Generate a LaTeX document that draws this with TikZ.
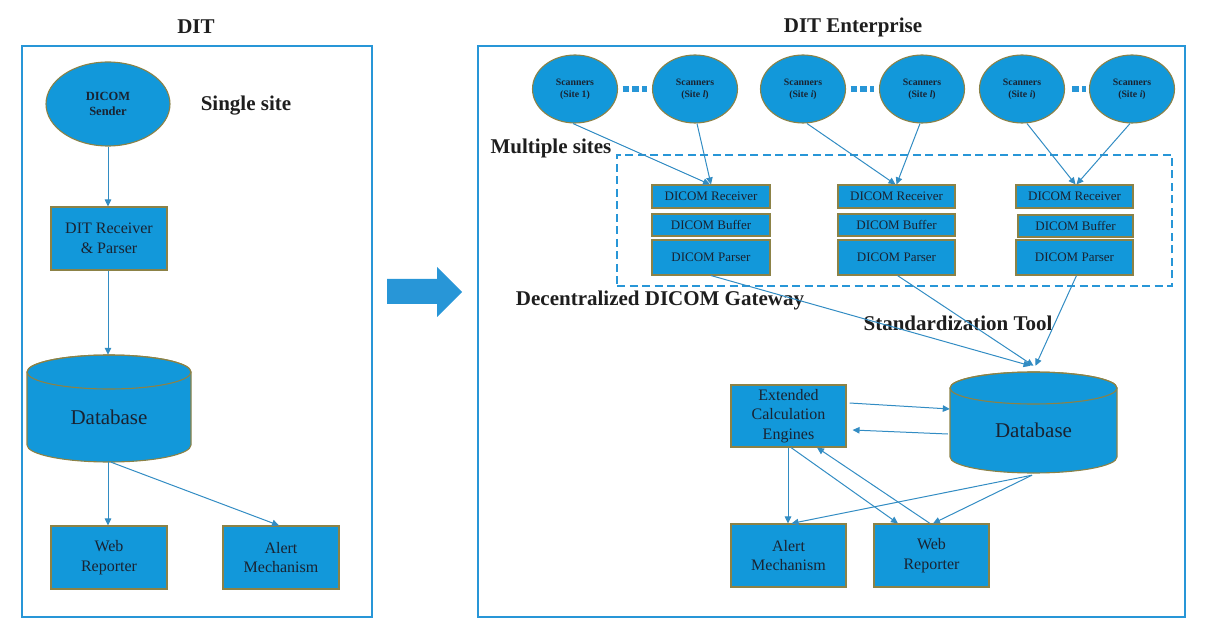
\documentclass[tikz,border=0pt]{standalone}
\usepackage{fontspec}
\setmainfont{Liberation Serif}
\usetikzlibrary{shapes.geometric,arrows.meta,calc}
\definecolor{nodefill}{RGB}{18,152,218}
\definecolor{nodeborder}{RGB}{140,130,70}
\definecolor{framecol}{RGB}{40,150,215}
\definecolor{conncol}{RGB}{50,140,195}
\definecolor{txt}{RGB}{25,35,50}
\definecolor{titlecol}{RGB}{30,30,30}
\tikzset{
  box/.style={draw=nodeborder, fill=nodefill, line width=1.1pt, text=txt, align=center, inner sep=0pt},
  scan/.style={ellipse, draw=nodeborder, fill=nodefill, line width=1.1pt, text=txt, align=center, inner sep=0pt,
    minimum width=85pt, minimum height=68pt, font=\bfseries\fontsize{9.8}{12}\selectfont},
  cylstyle/.style={draw=nodeborder, fill=nodefill, line width=1.1pt},
  dbtext/.style={text=txt, font=\fontsize{21}{25}\selectfont},
  conn/.style={draw=conncol, line width=1pt, -{Triangle[length=7pt,width=6.5pt]}},
  frame/.style={draw=framecol, line width=2.5pt, inner sep=0pt},
  title/.style={font=\bfseries\fontsize{21}{25}\selectfont, text=titlecol},
  mid/.style={font=\fontsize{16}{19.5}\selectfont},
  small/.style={font=\fontsize{13}{15}\selectfont},
  dots/.style={draw=framecol, line width=6pt, dash pattern=on 6.5pt off 3.25pt},
}
\newcommand{\mycyl}[6]{%
  \filldraw[cylstyle] ({#2-#5},{#3+#6}) -- ({#2-#5},{#4-#6})
    arc[start angle=180,end angle=0,x radius=#5,y radius=#6]
    -- ({#2+#5},{#3+#6})
    arc[start angle=0,end angle=-180,x radius=#5,y radius=#6] -- cycle;
  \draw[cylstyle, fill=none] (#2,{#3+#6}) ellipse[x radius=#5,y radius=#6];
  \node[inner sep=0pt, minimum width={2*#5}, minimum height={#4-#3}] (#1) at (#2,{(#3+#4)/2}) {};
  \node[dbtext] (#1label) at (#2,{(#3+#6+#4)/2}) {Database};
}
\begin{document}
\begin{tikzpicture}[x=1pt,y=-1pt]
\useasboundingbox (0,0) rectangle (1218,644);

% ---------- left panel ----------
\node[frame, minimum width=350pt, minimum height=571pt] (leftframe) at (197,331.5) {};
\node[title] (t1) at (196,27) {DIT};
\node[box, ellipse, minimum width=124pt, minimum height=84pt, font=\bfseries\fontsize{12.5}{15}\selectfont] (sender) at (108,104) {DICOM\\Sender};
\node[title] (single) at (246,106) {Single site};
\node[box, mid, minimum width=116pt, minimum height=63pt] (recv) at (109,238.5) {DIT Receiver\\\& Parser};
\mycyl{db1}{109}{355}{462}{82}{17}
\node[box, mid, minimum width=116pt, minimum height=63pt] (web1) at (109,557.5) {Web\\Reporter};
\node[box, mid, minimum width=116pt, minimum height=63pt] (alert1) at (281,557.5) {Alert\\Mechanism};

\draw[conn] (sender.south) -- (sender.south |- recv.north);
\draw[conn] (recv.south -| sender.south) -- (db1.north -| sender.south);
\draw[conn] ($(db1.south)+(-1,0)$) -- ($(web1.north)+(-1,0)$);
\draw[conn] ($(db1.south)+(2,0)$) -- ($(alert1.north)+(-2,0)$);

% ---------- big arrow ----------
\filldraw[fill=framecol, draw=none] (387,279) -- (437,279) -- (437,267) -- (462,292) -- (437,317) -- (437,304) -- (387,304) -- cycle;

% ---------- right panel ----------
\node[frame, minimum width=707pt, minimum height=571pt] (rightframe) at (831.5,331.5) {};
\node[title] (t2) at (853,27) {DIT Enterprise};

\node[scan] (s1) at (575,89) {Scanners\\(Site 1)};
\node[scan] (s2) at (695,89) {Scanners\\(Site \textit{l})};
\node[scan] (s3) at (803,89) {Scanners\\(Site \textit{i})};
\node[scan] (s4) at (922,89) {Scanners\\(Site \textit{l})};
\node[scan] (s5) at (1022,89) {Scanners\\(Site \textit{i})};
\node[scan] (s6) at (1132,89) {Scanners\\(Site \textit{i})};
\draw[dots, shorten <=4.5pt, shorten >=4.5pt] (s1.east) -- (s2.west);
\draw[dots, shorten <=4.5pt, shorten >=4.5pt] (s3.east) -- (s4.west);
\draw[dots, shorten <=7pt, shorten >=2.5pt] (s5.east) -- (s6.west);

\node[title] (multi) at (551,148) {Multiple sites};
\node[draw=framecol, line width=2.5pt, dash pattern=on 8pt off 4.5pt, minimum width=555pt, minimum height=131pt, inner sep=0pt] (gateway) at (894.5,220.5) {};

\node[box, small, minimum width=118pt, minimum height=23pt] (r1) at (711,196.5) {DICOM Receiver};
\node[box, small, minimum width=118pt, minimum height=22pt] (b1) at (711,225) {DICOM Buffer};
\node[box, small, minimum width=118pt, minimum height=35pt] (p1) at (711,257.5) {DICOM Parser};
\node[box, small, minimum width=117pt, minimum height=23pt] (r2) at (896.5,196.5) {DICOM Receiver};
\node[box, small, minimum width=117pt, minimum height=22pt] (b2) at (896.5,225) {DICOM Buffer};
\node[box, small, minimum width=117pt, minimum height=35pt] (p2) at (896.5,257.5) {DICOM Parser};
\node[box, small, minimum width=117pt, minimum height=23pt] (r3) at (1074.5,196.5) {DICOM Receiver};
\node[box, small, minimum width=115pt, minimum height=22pt] (b3) at (1075.5,226) {DICOM Buffer};
\node[box, small, minimum width=117pt, minimum height=35pt] (p3) at (1074.5,257.5) {DICOM Parser};

\draw[conn] ($(s1.south)+(-2,0)$) -- ($(r1.north)+(-1,0)$);
\draw[conn] ($(s2.south)+(2,0)$) -- ($(r1.north)+(0,0)$);
\draw[conn] ($(s3.south)+(4,0)$) -- ($(r2.north)+(-1,0)$);
\draw[conn] ($(s4.south)+(-2,0)$) -- ($(r2.north)+(0,0)$);
\draw[conn] ($(s5.south)+(5,0)$) -- ($(r3.north)+(1,0)$);
\draw[conn] ($(s6.south)+(-2,0)$) -- ($(r3.north)+(2,0)$);

\node[title] (gwlabel) at (660,300) {Decentralized DICOM Gateway};
\node[title] (stdtool) at (958,323) {Standardization Tool};

\mycyl{db2}{1033.5}{372}{473}{83.5}{16}
\node[box, mid, minimum width=115pt, minimum height=62pt] (ece) at (788.5,416) {Extended\\Calculation\\Engines};
\node[box, mid, minimum width=115pt, minimum height=63pt] (alert2) at (788.5,555.5) {Alert\\Mechanism};
\node[box, mid, minimum width=115pt, minimum height=63pt] (web2) at (931.5,555.5) {Web\\Reporter};

\draw[conn] (p1.south) -- ($(db2.north)+(-3,-6)$);
\draw[conn] ($(p2.south)+(1,0)$) -- ($(db2.north)+(0,-6)$);
\draw[conn] ($(p3.south)+(2,0)$) -- ($(db2.north)+(2,-6)$);

\draw[conn] ($(ece.east)+(3,-13)$) -- ($(db2.west)+(0,-13.5)$);
\draw[conn] ($(db2.west)+(-2,11.5)$) -- ($(ece.east)+(6,14)$);
\draw[conn] ($(ece.south)+(-0.5,0)$) -- ($(alert2.north)+(-0.5,0)$);
\draw[conn] ($(ece.south)+(2.5,0)$) -- ($(web2.north)+(-33.5,0)$);
\draw[conn] ($(web2.north)+(-1.5,0)$) -- ($(ece.south)+(28.5,0)$);
\draw[conn] ($(db2.south)+(-1.5,2)$) -- ($(alert2.north)+(3,0)$);
\draw[conn] ($(db2.south)+(-1.5,2)$) -- ($(web2.north)+(1.5,0)$);
\end{tikzpicture}
\end{document}
